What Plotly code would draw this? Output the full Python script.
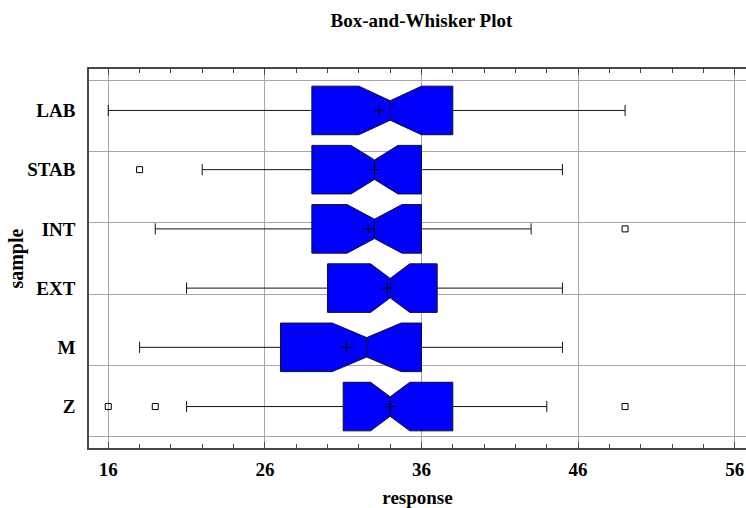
import plotly.graph_objects as go

samples = ["LAB", "STAB", "INT", "EXT", "M", "Z"]
lower_whisker = [16, 22, 19, 21, 18, 21]
q1 = [29, 29, 29, 30, 27, 31]
median = [34, 33, 33, 34, 32.5, 34]
q3 = [38, 36, 36, 37, 36, 38]
upper_whisker = [49, 45, 43, 45, 45, 44]
means = [33.3, 33, 32.6, 33.8, 31.2, 34]
notch_half = [2.0, 1.5, 1.75, 1.25, 2.2, 1.25]
outlier_sample = ["STAB", "INT", "Z", "Z", "Z"]
outlier_value = [18, 49, 16, 19, 49]

n = len(samples)
pos = {s: n - i for i, s in enumerate(samples)}
ypos = [pos[s] for s in samples]

SERIF = "Liberation Serif"
FRAME = "#4a4a4a"
GRID = "#a6a6a6"

fig = go.Figure()
fig.add_trace(go.Box(
    y=ypos, orientation="h",
    q1=q1, median=median, q3=q3,
    lowerfence=lower_whisker, upperfence=upper_whisker,
    notched=True, notchspan=notch_half, notchwidth=0.3,
    width=0.82, whiskerwidth=0.23,
    fillcolor="#0000ff", line=dict(color="#101020", width=1),
    boxpoints=False, showlegend=False, hoverinfo="skip",
))
fig.add_trace(go.Scatter(
    x=means, y=ypos, mode="markers",
    marker=dict(symbol="cross-thin", size=8, line=dict(color="black", width=1)),
    showlegend=False, hoverinfo="skip",
))
fig.add_trace(go.Scatter(
    x=outlier_value, y=[pos[s] for s in outlier_sample], mode="markers",
    marker=dict(symbol="square-open", size=6, color="black", line=dict(width=1)),
    showlegend=False, hoverinfo="skip",
))

fig.update_layout(
    width=746, height=508,
    margin=dict(l=89, r=0, t=69, b=60, autoexpand=False),
    paper_bgcolor="white", plot_bgcolor="white",
    font=dict(family=SERIF, color="black"),
    title=dict(text="Box-and-Whisker Plot", x=0.506, xref="paper", xanchor="center",
               y=1 - 20 / 508, yref="container", yanchor="middle",
               font=dict(family=SERIF, size=19, weight="bold", color="black"),
               automargin=False),
    xaxis=dict(
        range=[14.77, 56.72], tickmode="linear", tick0=16, dtick=10,
        showgrid=True, gridcolor=GRID, gridwidth=1, zeroline=False,
        ticks="inside", ticklen=6, tickcolor=FRAME, mirror="allticks",
        showline=True, linecolor=FRAME, linewidth=1.5,
        tickfont=dict(family=SERIF, size=19, weight="bold"),
        ticklabelstandoff=3, automargin=False, ticklabeloverflow="allow",
        minor=dict(tickmode="linear", tick0=16, dtick=2, ticks="inside", ticklen=4,
                   tickcolor=FRAME, showgrid=False),
        title=dict(text="response", standoff=14,
                   font=dict(family=SERIF, size=19, weight="bold")),
    ),
    yaxis=dict(
        range=[0.3, 6.7], tickmode="array", tickvals=ypos, ticktext=samples,
        showgrid=False, zeroline=False, ticks="",
        showline=True, linecolor=FRAME, linewidth=1.5, mirror=False,
        tickfont=dict(family=SERIF, size=19, weight="bold"),
        ticklabelstandoff=8, automargin=False,
        minor=dict(tickmode="linear", tick0=0.5, dtick=1.2, ticks="", showgrid=True,
                   gridcolor=GRID, gridwidth=1),
    ),
    annotations=[dict(
        text="sample", textangle=-90, showarrow=False,
        xref="paper", yref="paper", x=-0.111, y=0.5,
        xanchor="center", yanchor="middle",
        font=dict(family=SERIF, size=20, weight="bold", color="black"),
    )],
)

fig.write_html(
    "out.html",
    config={"displayModeBar": False},
    post_script="document.body.style.margin='0';document.body.style.overflow='hidden';",
)
